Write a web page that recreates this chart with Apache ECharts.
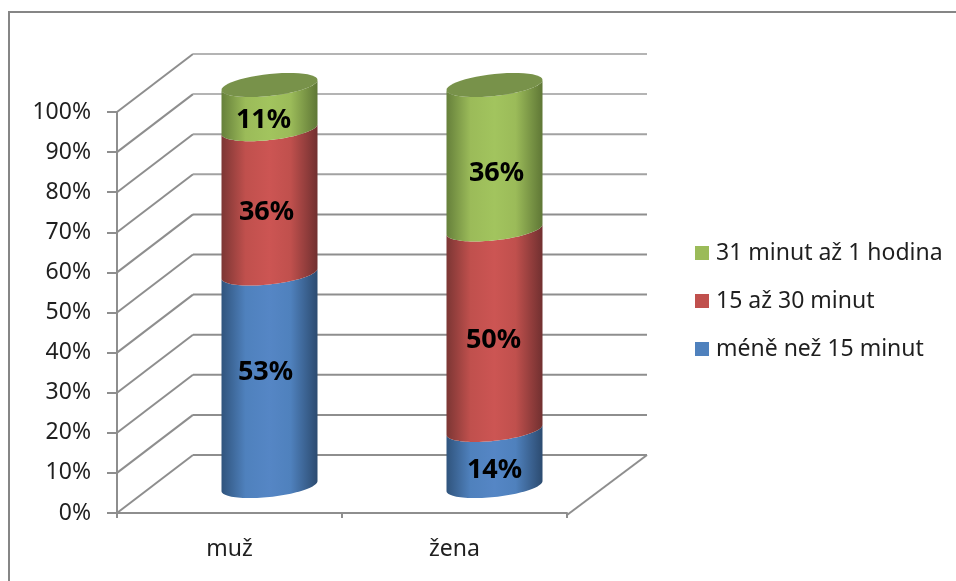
<!DOCTYPE html>
<html>
<head>
<meta charset="utf-8">
<style>html,body{margin:0;padding:0;background:#fff}#c{width:956px;height:581px}</style>
<script src="https://cdn.jsdelivr.net/npm/echarts@6/dist/echarts.min.js"></script>
</head>
<body>
<div id="c"></div>
<script>
// ---- data ----
var categories = ['muž', 'žena'];
var lessThan15 = [53, 14];
var from15to30 = [36, 50];
var from31to60 = [11, 36];
var seriesNames = ['méně než 15 minut', '15 až 30 minut', '31 minut až 1 hodina'];
var percentTicks = [0, 10, 20, 30, 40, 50, 60, 70, 80, 90, 100];

// ---- drawing constants ----
var FONT = '"Noto Sans", sans-serif';
var AXIS = '#8e8e8e';
var LINE_W = 2;
var DEPTH = {dx: 76, dy: -58, widen: 4};   // back wall relative to the front plane
var CYL = {dx: 40, dy: -27, rx: 48, ry: 11, skew: 5};
var PALETTE = [
  {flat: '#4f81bd', edgeL: '#30547d', mid: '#5586c5', edgeR: '#2c4b70'},
  {flat: '#c0504d', edgeL: '#7c3634', mid: '#cc5553', edgeR: '#713030'},
  {flat: '#9bbb59', edgeL: '#66803b', mid: '#a2c45e', edgeR: '#5f7736'}
];
var CAP = '#78924a';
var LABEL_NUDGE_Y = [[-7, 12], [11, 11], [13, 16]];  // px, per series and category
var LABEL_NUDGE_X = [[-4, 0], [-3, -1], [-6, 2]];

function arc(cx, cy, from, to) {
  var pts = [], n = 48;
  for (var i = 0; i <= n; i++) {
    var t = from + (to - from) * i / n;
    pts.push([cx + CYL.rx * Math.cos(t), cy + CYL.ry * Math.sin(t) - CYL.skew * Math.cos(t)]);
  }
  return pts;
}

function stackItem(values, lower) {
  return values.map(function (v, i) {
    var base = 0;
    lower.forEach(function (arr) { base += arr[i]; });
    return [i, base, base + v, v];
  });
}

function cylinderSeries(name, values, lower, idx, isTop) {
  var p = PALETTE[idx];
  return {
    name: name,
    type: 'custom',
    coordinateSystem: 'cartesian2d',
    z: 5 + idx,
    clip: false,
    itemStyle: {color: p.flat},
    encode: {x: 0, y: 2},
    data: stackItem(values, lower),
    renderItem: function (params, api) {
      var a = api.coord([api.value(0), api.value(1)]);
      var b = api.coord([api.value(0), api.value(2)]);
      var cx = a[0] + CYL.dx;
      var y0 = a[1] + CYL.dy, y1 = b[1] + CYL.dy;
      var body = arc(cx, y1, Math.PI, 0).concat(arc(cx, y0, 0, Math.PI));
      var kids = [{
        type: 'polygon',
        shape: {points: body},
        style: {
          fill: {type: 'linear', x: 0, y: 0, x2: 1, y2: 0, colorStops: [
            {offset: 0, color: p.edgeL},
            {offset: 0.25, color: p.flat},
            {offset: 0.5, color: p.mid},
            {offset: 0.72, color: p.flat},
            {offset: 1, color: p.edgeR}
          ]}
        }
      }];
      if (isTop) {
        kids.push({type: 'polygon', shape: {points: arc(cx, y1, 0, Math.PI * 2)}, style: {fill: CAP}});
      }
      kids.push({
        type: 'text',
        z2: 50,
        style: {
          text: api.value(3) + '%',
          x: cx + LABEL_NUDGE_X[idx][params.dataIndex],
          y: (y0 + y1) / 2 + LABEL_NUDGE_Y[idx][params.dataIndex],
          align: 'center',
          verticalAlign: 'middle',
          font: 'bold 27px ' + FONT,
          fill: '#000'
        }
      });
      return {type: 'group', children: kids};
    }
  };
}

var wallsSeries = {
  type: 'custom',
  coordinateSystem: 'cartesian2d',
  z: 1,
  clip: false,
  silent: true,
  encode: {y: 0},
  data: percentTicks.map(function (t) { return [t]; }),
  renderItem: function (params, api) {
    var v = api.value(0);
    var r = params.coordSys;
    var y = api.coord([0, v])[1];
    var xL = r.x, xR = r.x + r.width;
    var backY = y + DEPTH.dy;
    var back = xR + DEPTH.dx + DEPTH.widen;
    var color = v >= 90 ? '#b4b4b4' : (v >= 70 ? '#a2a2a2' : AXIS);
    var kids = [
      {type: 'line', shape: {x1: xL, y1: y, x2: xL + DEPTH.dx, y2: backY}, style: {stroke: AXIS, lineWidth: LINE_W}},
      {type: 'line', shape: {x1: xL + DEPTH.dx, y1: backY, x2: back, y2: backY}, style: {stroke: color, lineWidth: LINE_W}}
    ];
    if (v === 0) {
      kids.push({type: 'line', shape: {x1: xR, y1: y + 2, x2: back, y2: backY}, style: {stroke: AXIS, lineWidth: LINE_W}});
    }
    return {type: 'group', children: kids};
  }
};

var chart = echarts.init(document.getElementById('c'), null, {renderer: 'canvas'});
chart.setOption({
  animation: false,
  backgroundColor: '#fff',
  graphic: [
    {type: 'polyline', z: 0, shape: {points: [[9, 581], [9, 12], [956, 12]]}, style: {stroke: '#868686', lineWidth: 2, fill: null}}
  ],
  grid: {left: 117, top: 112, width: 450, height: 401, containLabel: false},
  xAxis: {
    type: 'category',
    data: categories,
    offset: 2,
    axisLine: {lineStyle: {color: AXIS, width: 2}},
    axisTick: {show: true, length: 5, alignWithLabel: false, lineStyle: {color: AXIS, width: 2}},
    axisLabel: {color: '#1f1f1f', fontFamily: FONT, fontSize: 23, margin: 23},
    splitLine: {show: false}
  },
  yAxis: {
    type: 'value',
    min: 0,
    max: 100,
    interval: 10,
    axisLine: {show: true, lineStyle: {color: AXIS, width: 2}},
    axisTick: {show: true, length: 10, lineStyle: {color: AXIS, width: 2}},
    axisLabel: {color: '#1f1f1f', fontFamily: FONT, fontSize: 23, margin: 26, padding: [4, 0, 0, 0], formatter: '{value}%'},
    splitLine: {show: false}
  },
  legend: {
    orient: 'vertical',
    left: 695,
    top: 239,
    padding: 0,
    itemWidth: 14,
    itemHeight: 14,
    itemGap: 20,
    icon: 'rect',
    selectedMode: false,
    data: seriesNames.slice().reverse(),
    textStyle: {color: '#1f1f1f', fontFamily: FONT, fontSize: 23, lineHeight: 28, padding: [0, 0, 0, 2]}
  },
  series: [
    wallsSeries,
    cylinderSeries(seriesNames[0], lessThan15, [], 0, false),
    cylinderSeries(seriesNames[1], from15to30, [lessThan15], 1, false),
    cylinderSeries(seriesNames[2], from31to60, [lessThan15, from15to30], 2, true)
  ]
});
</script>
</body>
</html>
